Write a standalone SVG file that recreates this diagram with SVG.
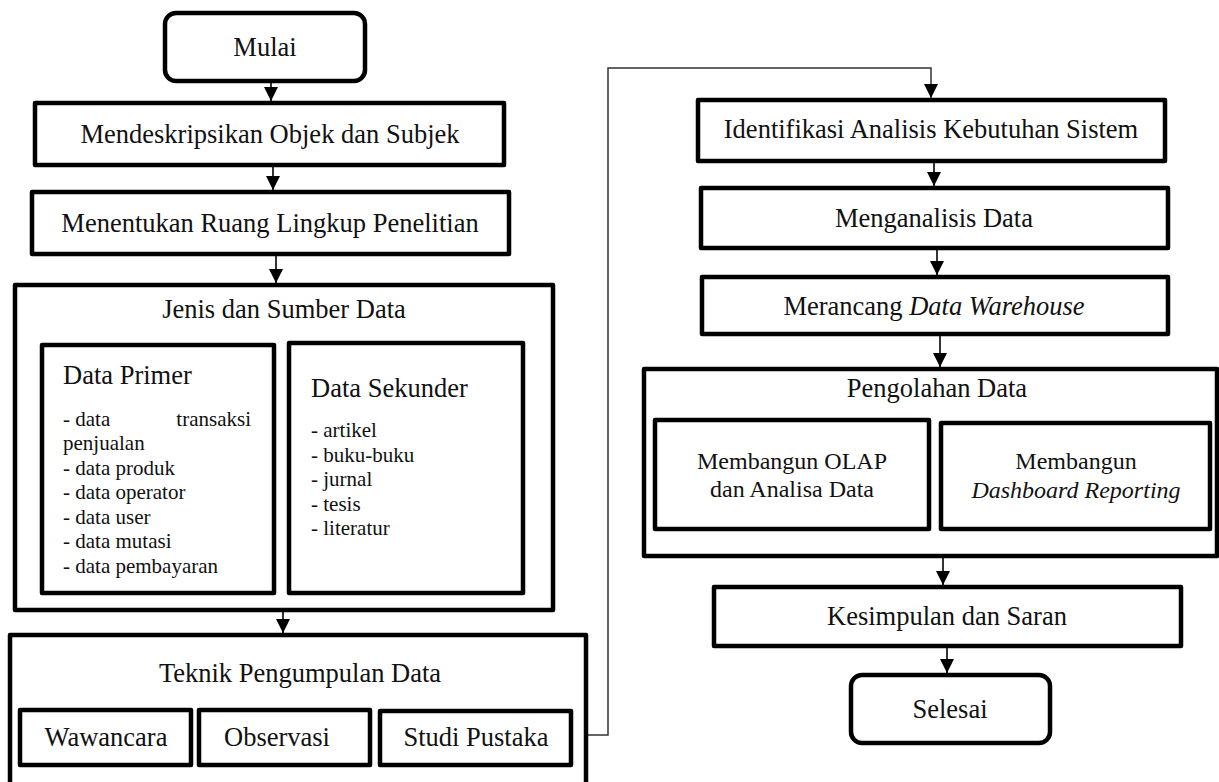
<svg xmlns="http://www.w3.org/2000/svg" width="1219" height="782" viewBox="0 0 1219 782">
<style>
.box{fill:#fff;stroke:#000;stroke-width:4.5;stroke-linejoin:round}
.t{font-family:"Liberation Serif","Times New Roman",serif;font-size:26.5px;fill:#111;text-anchor:middle}
.s{font-family:"Liberation Serif","Times New Roman",serif;font-size:24px;fill:#111;text-anchor:middle}
.l{font-family:"Liberation Serif","Times New Roman",serif;font-size:21px;fill:#111}
.h{font-family:"Liberation Serif","Times New Roman",serif;font-size:26.5px;fill:#111}
.c{fill:none;stroke:#000;stroke-width:1.6}
.cg{fill:none;stroke:#333;stroke-width:1.5}
</style>
<defs>
<marker id="ah" markerUnits="userSpaceOnUse" markerWidth="14" markerHeight="14" refX="14" refY="7" orient="auto">
<path d="M0,0 L14,7 L0,14 z" fill="#000"/>
</marker>
</defs>
<rect width="1219" height="782" fill="#fff"/>

<g id="connectors">
<line class="c" x1="271" y1="81" x2="271" y2="101" marker-end="url(#ah)"/>
<line class="c" x1="273" y1="165" x2="273" y2="190" marker-end="url(#ah)"/>
<line class="c" x1="276" y1="254" x2="276" y2="283" marker-end="url(#ah)"/>
<line class="c" x1="283" y1="610" x2="283" y2="633" marker-end="url(#ah)"/>
<polyline class="cg" points="586,735 608,735 608,68 931,68 931,98" marker-end="url(#ah)"/>
<line class="c" x1="934" y1="161" x2="934" y2="186" marker-end="url(#ah)"/>
<line class="c" x1="937" y1="248" x2="937" y2="275" marker-end="url(#ah)"/>
<line class="c" x1="940" y1="334" x2="940" y2="367" marker-end="url(#ah)"/>
<line class="c" x1="943" y1="556" x2="943" y2="585" marker-end="url(#ah)"/>
<line class="c" x1="947" y1="646" x2="947" y2="673" marker-end="url(#ah)"/>
</g>

<g id="mulai">
<rect class="box" x="165" y="13" width="200" height="68" rx="11"/>
<text class="t" x="265" y="56">Mulai</text>
</g>

<g id="mendeskripsikan">
<rect class="box" x="35" y="103" width="469" height="62"/>
<text class="t" x="270" y="143">Mendeskripsikan Objek dan Subjek</text>
</g>

<g id="menentukan">
<rect class="box" x="32" y="192" width="477" height="62"/>
<text class="t" x="270" y="232">Menentukan Ruang Lingkup Penelitian</text>
</g>

<g id="jenis">
<rect class="box" x="15" y="285" width="538" height="325"/>
<text class="t" x="284" y="318">Jenis dan Sumber Data</text>
</g>

<g id="data-primer">
<rect class="box" x="42" y="345" width="232" height="248"/>
<text class="h" x="63" y="384">Data Primer</text>
<text class="l" x="63" y="426">- data</text>
<text class="l" x="251" y="426" text-anchor="end">transaksi</text>
<text class="l" x="63" y="450">penjualan</text>
<text class="l" x="63" y="475">- data produk</text>
<text class="l" x="63" y="499">- data operator</text>
<text class="l" x="63" y="524">- data user</text>
<text class="l" x="63" y="548">- data mutasi</text>
<text class="l" x="63" y="573">- data pembayaran</text>
</g>

<g id="data-sekunder">
<rect class="box" x="289" y="343" width="234" height="250"/>
<text class="h" x="311" y="397">Data Sekunder</text>
<text class="l" x="311" y="437">- artikel</text>
<text class="l" x="311" y="462">- buku-buku</text>
<text class="l" x="311" y="486">- jurnal</text>
<text class="l" x="311" y="511">- tesis</text>
<text class="l" x="311" y="535">- literatur</text>
</g>

<g id="teknik">
<rect class="box" x="10" y="635" width="576" height="175"/>
<text class="t" x="300" y="682">Teknik Pengumpulan Data</text>
</g>

<g id="wawancara">
<rect class="box" x="20" y="710" width="171" height="55"/>
<text class="t" x="106" y="746">Wawancara</text>
</g>

<g id="observasi">
<rect class="box" x="199" y="710" width="171" height="55"/>
<text class="t" x="277" y="746">Observasi</text>
</g>

<g id="studi-pustaka">
<rect class="box" x="380" y="711" width="191" height="54"/>
<text class="t" x="476" y="746">Studi Pustaka</text>
</g>

<g id="identifikasi">
<rect class="box" x="698" y="100" width="467" height="61"/>
<text class="t" x="931" y="138">Identifikasi Analisis Kebutuhan Sistem</text>
</g>

<g id="menganalisis">
<rect class="box" x="701" y="188" width="467" height="60"/>
<text class="t" x="934" y="227">Menganalisis Data</text>
</g>

<g id="merancang">
<rect class="box" x="702" y="277" width="466" height="57"/>
<text class="t" x="934" y="315">Merancang <tspan font-style="italic">Data Warehouse</tspan></text>
</g>

<g id="pengolahan">
<rect class="box" x="644" y="369" width="573" height="187"/>
<text class="t" x="937" y="397">Pengolahan Data</text>
</g>

<g id="olap">
<rect class="box" x="655" y="420" width="274" height="109"/>
<text class="s" x="792" y="469">Membangun OLAP</text>
<text class="s" x="792" y="497">dan Analisa Data</text>
</g>

<g id="dashboard">
<rect class="box" x="941" y="423" width="269" height="106"/>
<text class="s" x="1076" y="469">Membangun</text>
<text class="s" x="1076" y="498" font-style="italic">Dashboard Reporting</text>
</g>

<g id="kesimpulan">
<rect class="box" x="714" y="587" width="467" height="59"/>
<text class="t" x="947" y="625">Kesimpulan dan Saran</text>
</g>

<g id="selesai">
<rect class="box" x="851" y="675" width="199" height="68" rx="11"/>
<text class="t" x="950" y="718">Selesai</text>
</g>
</svg>
